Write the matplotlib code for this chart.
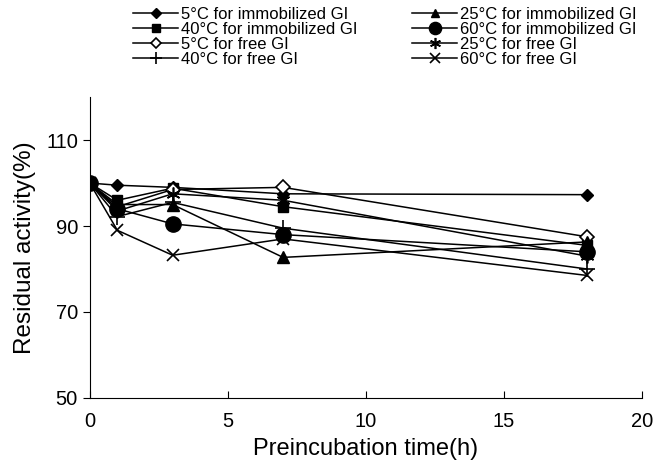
import matplotlib.pyplot as plt
import numpy as np

plt.rcParams['font.family'] = ['Liberation Sans', 'DejaVu Sans']

# czas preinkubacji (h)
czas = [0, 1, 3, 7, 18]

# aktywnosc resztkowa (%)
imm_5 = [100, 99.5, 99, 97.5, 97.3]
imm_40 = [100, 96, 98.8, 94.5, 85.5]
free_5 = [100, 94.5, 98.5, 99, 87.5]
free_40 = [100, 92.2, 95.5, 89.5, 80]
imm_25 = [100, 95, 95, 82.7, 86.3]
imm_60 = [100, 94, 90.5, 88, 84]
free_25 = [100, 93.5, 97.5, 96, 83]
free_60 = [100, 89, 83.2, 87, 78.5]

etykiety = ['5°C for immobilized GI', '40°C for immobilized GI', '5°C for free GI',
            '40°C for free GI', '25°C for immobilized GI', '60°C for immobilized GI',
            '25°C for free GI', '60°C for free GI']

fig = plt.figure(figsize=(6.6, 4.67), dpi=100)
ax = fig.add_axes([0.136, 0.148, 0.837, 0.644])

lw = 1.1
h1, = ax.plot(czas, imm_5, color='black', lw=lw, marker='D', ms=6.5)
h2, = ax.plot(czas, imm_40, color='black', lw=lw, marker='s', ms=6.5)
h3, = ax.plot(czas, free_5, color='black', lw=lw, marker='D', ms=7, mfc='white', mew=1.2)
h4, = ax.plot(czas, free_40, color='black', lw=lw, marker='+', ms=11, mew=1.2)
h5, = ax.plot(czas, imm_25, color='black', lw=lw, marker='^', ms=8)
h6, = ax.plot(czas, imm_60, color='black', lw=lw, marker='o', ms=11)
h7, = ax.plot(czas, free_25, color='black', lw=lw, marker=(6, 2, 0), ms=10, mew=1.2)
h8, = ax.plot(czas, free_60, color='black', lw=lw, marker='x', ms=9, mew=1.2)

ax.set_xlim(0, 20)
ax.set_ylim(50, 120)
ax.set_xticks([0, 5, 10, 15, 20])
ax.set_yticks([50, 70, 90, 110])
ax.spines['top'].set_visible(False)
ax.spines['right'].set_visible(False)
ax.tick_params(axis='x', direction='in', length=5, labelsize=14.5, pad=10)
ax.tick_params(axis='y', direction='out', length=5, labelsize=14.5)
ax.set_xlabel('Preincubation time(h)', fontsize=17, labelpad=5)
ax.set_ylabel('Residual activity(%)', fontsize=17.5, labelpad=7)

#legenda u gory
fig.legend([h1, h2, h3, h4, h5, h6, h7, h8], etykiety, ncol=2, frameon=False,
           loc='upper left', bbox_to_anchor=(0.184, 1.01), fontsize=12,
           labelspacing=0.0, handlelength=2.7, handletextpad=0.15,
           columnspacing=3.3, borderpad=0.2, markerscale=0.8)

fig.savefig('out.png', dpi=100)
